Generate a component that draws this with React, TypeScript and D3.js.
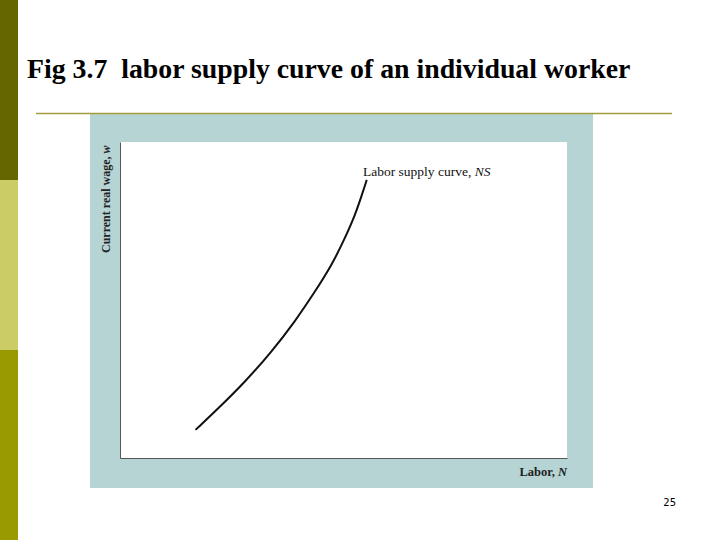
import React, { useEffect, useRef } from "react";
import * as d3 from "d3";

// labor supply curve (labor N, real wage w), arbitrary units 0..10
const laborN = [1.69, 2.2, 2.8, 3.39, 3.91, 4.36, 4.74, 5.03, 5.26, 5.41, 5.52];
const wageW = [0.89, 1.57, 2.41, 3.36, 4.31, 5.26, 6.11, 6.95, 7.69, 8.32, 8.8];

const titleText = "Fig 3.7  labor supply curve of an individual worker";
const curveLabel = "Labor supply curve, ";
const xLabel = "Labor, ";
const yLabel = "Current real wage, ";
const pageNumber = "25";

export default function App() {
  const svgRef = useRef<SVGSVGElement | null>(null);

  useEffect(() => {
    const svg = d3.select(svgRef.current);
    svg.selectAll("*").remove();

    const width = 720;
    const height = 540;
    // plot area inside the teal frame
    const plot = { left: 120, right: 567, top: 142, bottom: 458 };

    svg.attr("width", width).attr("height", height);

    // slide decoration: left colour bar
    const bands = [
      { y0: 0, y1: 180, color: "#666600" },
      { y0: 180, y1: 350, color: "#cccc66" },
      { y0: 350, y1: 540, color: "#999900" },
    ];
    svg.selectAll("rect.band")
      .data(bands)
      .enter()
      .append("rect")
      .attr("x", 0)
      .attr("width", 18)
      .attr("y", (d) => d.y0)
      .attr("height", (d) => d.y1 - d.y0)
      .attr("fill", (d) => d.color);

    // title
    svg.append("text")
      .attr("x", 27)
      .attr("y", 78)
      .attr("font-family", "'Liberation Serif', 'Times New Roman', serif")
      .attr("font-weight", "bold")
      .attr("font-size", "27.8px")
      .attr("fill", "#000")
      .style("white-space", "pre")
      .text(titleText);

    // teal frame
    svg.append("rect")
      .attr("x", 90)
      .attr("y", 114)
      .attr("width", 503)
      .attr("height", 374)
      .attr("fill", "#b6d4d3");

    // gold rule under the title
    svg.append("line")
      .attr("x1", 36)
      .attr("x2", 672)
      .attr("y1", 113.5)
      .attr("y2", 113.5)
      .attr("stroke", "#a39d3c")
      .attr("stroke-width", 1.5);

    // white plot area
    svg.append("rect")
      .attr("x", plot.left)
      .attr("y", plot.top)
      .attr("width", plot.right - plot.left)
      .attr("height", plot.bottom - plot.top)
      .attr("fill", "#fff");

    const x = d3.scaleLinear().domain([0, 10]).range([plot.left, plot.right]);
    const y = d3.scaleLinear().domain([0, 10]).range([plot.bottom, plot.top]);

    // axes without ticks
    const xAxis = svg.append("g")
      .attr("transform", `translate(0,${plot.bottom})`)
      .call(d3.axisBottom(x).tickValues([]).tickSizeOuter(0));
    const yAxis = svg.append("g")
      .attr("transform", `translate(${plot.left},0)`)
      .call(d3.axisLeft(y).tickValues([]).tickSizeOuter(0));
    [xAxis, yAxis].forEach((g) => g.select(".domain").attr("stroke", "#555").attr("stroke-width", 1));

    const serif = "'Liberation Serif', 'Times New Roman', serif";

    // y axis label
    const yl = svg.append("text")
      .attr("transform", `translate(110,253) rotate(-90)`)
      .attr("font-family", serif)
      .attr("font-weight", "bold")
      .attr("font-size", "12px")
      .attr("fill", "#222");
    yl.append("tspan").text(yLabel);
    yl.append("tspan").attr("font-style", "italic").text("w");

    // x axis label
    const xl = svg.append("text")
      .attr("x", plot.right)
      .attr("y", 476)
      .attr("text-anchor", "end")
      .attr("font-family", serif)
      .attr("font-weight", "bold")
      .attr("font-size", "12.5px")
      .attr("fill", "#222");
    xl.append("tspan").text(xLabel);
    xl.append("tspan").attr("font-style", "italic").text("N");

    // the curve
    const pts = laborN.map((n, i) => [n, wageW[i]] as [number, number]);
    svg.append("path")
      .datum(pts)
      .attr("fill", "none")
      .attr("stroke", "#111")
      .attr("stroke-width", 2)
      .attr("d", d3.line<[number, number]>()
        .x((d) => x(d[0]))
        .y((d) => y(d[1]))
        .curve(d3.curveBasis));

    // curve label
    const cl = svg.append("text")
      .attr("x", 363)
      .attr("y", 176)
      .attr("font-family", serif)
      .attr("font-size", "13.5px")
      .attr("fill", "#111");
    cl.append("tspan").text(curveLabel);
    cl.append("tspan").attr("font-style", "italic").text("NS");

    // page number
    svg.append("text")
      .attr("x", 676)
      .attr("y", 506)
      .attr("text-anchor", "end")
      .attr("font-family", "'DejaVu Sans', sans-serif")
      .attr("font-size", "10px")
      .attr("fill", "#000")
      .text(pageNumber);
  }, []);

  return (
    <div style={{ position: "absolute", left: 0, top: 0 }}>
      <svg ref={svgRef}></svg>
    </div>
  );
}
